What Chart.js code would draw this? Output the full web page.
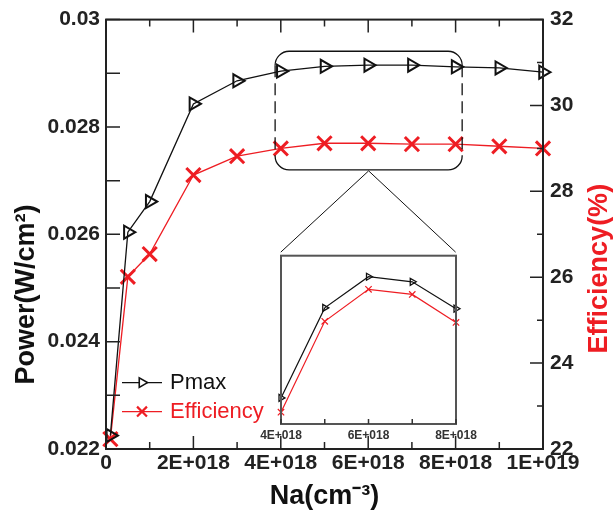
<!DOCTYPE html>
<html>
<head>
<meta charset="utf-8">
<script src="https://cdn.jsdelivr.net/npm/chart.js@4.4.1/dist/chart.umd.min.js"></script>
<style>
  html, body { margin: 0; padding: 0; background: #fff; }
  #wrap { position: relative; width: 613px; height: 514px; }
  #insetBox { position: absolute; }
</style>
</head>
<body>
<div id="wrap">
  <canvas id="chartMain" width="613" height="514"></canvas>
  <div id="insetBox"><canvas id="chartInset"></canvas></div>
</div>
<script>
// valores
const NA = [1e17, 5e17, 1e18, 2e18, 3e18, 4e18, 5e18, 6e18, 7e18, 8e18, 9e18, 1e19];
const PMAX = [0.02225, 0.02604, 0.02661, 0.02843, 0.02886, 0.02904, 0.02913, 0.02915, 0.02915, 0.02912, 0.02910, 0.02902];
const EFICIENCIA = [22.23, 26.01, 26.54, 28.38, 28.82, 29.00, 29.12, 29.12, 29.10, 29.10, 29.05, 29.00];

// zoom del recuadro
const NA_INSET = [4e18, 5e18, 6e18, 7e18, 8e18];
const PMAX_INSET = [0.029031, 0.029138, 0.029175, 0.029169, 0.029137];
const EFF_INSET = [28.921, 29.083, 29.140, 29.131, 29.081];

const X_TICKS = ['0', '2E+018', '4E+018', '6E+018', '8E+018', '1E+019'];
const Y_TICKS = ['0.022', '0.024', '0.026', '0.028', '0.03'];
const Y2_TICKS = ['22', '24', '26', '28', '30', '32'];
const X_TICKS_INSET = ['4E+018', '', '6E+018', '', '8E+018'];

// zonas en unidades de datos (recuadro redondeado y grafico chico)
const ZONA_ZOOM = { xMin: 3.87e18, xMax: 8.15e18, yMin: 0.02720, yMax: 0.02941 };
const ZONA_INSET = { xMin: 4e18, xMax: 8e18, yMin: 0.022461, yMax: 0.025668 };

const ROJO = '#ee1d23';
const NEGRO = '#111111';
const FUENTE = "'Liberation Sans', Arial, sans-serif";

Chart.defaults.font.family = FUENTE;
Chart.defaults.color = '#222';

function marcas(chart, ejeId, desde, hasta, paso, cadaMayor, largoMayor, largoMenor, lados, color) {
    const s = chart.scales[ejeId];
    const a = chart.chartArea;
    const ctx = chart.ctx;
    const n = Math.round((hasta - desde) / paso);
    ctx.save();
    ctx.strokeStyle = color || '#222';
    ctx.lineWidth = 1.5;
    ctx.beginPath();
    for (let i = 0; i <= n; i++) {
        const p = s.getPixelForValue(desde + i * paso);
        const L = (i % cadaMayor === 0) ? largoMayor : largoMenor;
        lados.forEach(lado => {
            if (lado === 'bottom') { ctx.moveTo(p, a.bottom); ctx.lineTo(p, a.bottom - L); }
            if (lado === 'top') { ctx.moveTo(p, a.top); ctx.lineTo(p, a.top + L); }
            if (lado === 'left') { ctx.moveTo(a.left, p); ctx.lineTo(a.left + L, p); }
            if (lado === 'right') { ctx.moveTo(a.right, p); ctx.lineTo(a.right - L, p); }
        });
    }
    ctx.stroke();
    ctx.restore();
}

function texto(ctx, str, x, y, rot, font, color) {
    ctx.save();
    ctx.translate(x, y);
    ctx.rotate(rot);
    ctx.font = font;
    ctx.fillStyle = color;
    ctx.textAlign = 'center';
    ctx.textBaseline = 'middle';
    ctx.fillText(str, 0, 0);
    ctx.restore();
}

// marcadores de la leyenda (mas chicos que los del grafico)
const LEYENDA_MARCA = [
    { radius: 5.5, borderWidth: 1.6 },
    { radius: 7, borderWidth: 2.2 }
];

const decoPrincipal = {
    id: 'decoPrincipal',
    afterDatasetsDraw(chart) {
        const ctx = chart.ctx;
        const a = chart.chartArea;
        const sx = chart.scales.x, sy = chart.scales.y;

        // marco y marcas hacia adentro
        ctx.save();
        ctx.strokeStyle = '#222';
        ctx.lineWidth = 2;
        ctx.strokeRect(a.left, a.top, a.width, a.height);
        ctx.restore();
        marcas(chart, 'x', 0, 1e19, 1e18, 2, 13, 7, ['bottom', 'top']);
        marcas(chart, 'y', 0.022, 0.030, 0.001, 2, 14, 14, ['left']);
        marcas(chart, 'y2', 22, 32, 1, 2, 13, 6, ['right']);

        // titulos de ejes
        texto(ctx, 'Power(W/cm²)', a.left - 79, a.top + a.height * 0.64, -Math.PI / 2, 'bold 27px ' + FUENTE, '#111');
        texto(ctx, 'Efficiency(%)', a.right + 57, a.top + a.height * 0.58, -Math.PI / 2, 'bold 27px ' + FUENTE, ROJO);
        texto(ctx, 'Na(cm⁻³)', (a.left + a.right) / 2, a.bottom + 48, 0, 'bold 27px ' + FUENTE, '#111');

        // leyenda dentro del area
        const items = chart.data.datasets;
        items.forEach((ds, i) => {
            const y = a.top + 363 + i * 29;
            const x0 = a.left + 16;
            ctx.save();
            ctx.strokeStyle = ds.borderColor;
            ctx.lineWidth = 1.2;
            ctx.beginPath();
            ctx.moveTo(x0, y);
            ctx.lineTo(x0 + 40, y);
            ctx.stroke();
            ctx.fillStyle = '#fff';
            ctx.lineWidth = LEYENDA_MARCA[i].borderWidth;
            Chart.helpers.drawPoint(ctx, {
                pointStyle: ds.pointStyle, rotation: ds.pointRotation,
                radius: LEYENDA_MARCA[i].radius, borderWidth: LEYENDA_MARCA[i].borderWidth
            }, x0 + 20, y);
            ctx.fillStyle = ds.borderColor;
            ctx.font = '22px ' + FUENTE;
            ctx.textAlign = 'left';
            ctx.textBaseline = 'middle';
            ctx.fillText(ds.label, x0 + 48, y);
            ctx.restore();
        });

        // recuadro redondeado con lados punteados
        const x1 = sx.getPixelForValue(ZONA_ZOOM.xMin), x2 = sx.getPixelForValue(ZONA_ZOOM.xMax);
        const y1 = sy.getPixelForValue(ZONA_ZOOM.yMax), y2 = sy.getPixelForValue(ZONA_ZOOM.yMin);
        const r = 14;
        ctx.save();
        ctx.strokeStyle = '#111';
        ctx.lineWidth = 1.3;
        ctx.beginPath();
        ctx.moveTo(x1, y1 + r);
        ctx.arcTo(x1, y1, x1 + r, y1, r);
        ctx.lineTo(x2 - r, y1);
        ctx.arcTo(x2, y1, x2, y1 + r, r);
        ctx.moveTo(x1, y2 - r);
        ctx.arcTo(x1, y2, x1 + r, y2, r);
        ctx.lineTo(x2 - r, y2);
        ctx.arcTo(x2, y2, x2, y2 - r, r);
        ctx.stroke();
        ctx.setLineDash([12, 6]);
        ctx.beginPath();
        ctx.moveTo(x1, y1 + r); ctx.lineTo(x1, y2 - r);
        ctx.moveTo(x2, y1 + r); ctx.lineTo(x2, y2 - r);
        ctx.stroke();
        ctx.setLineDash([]);

        // lineas hacia el grafico chico
        const cx = (x1 + x2) / 2;
        const ix1 = sx.getPixelForValue(ZONA_INSET.xMin), ix2 = sx.getPixelForValue(ZONA_INSET.xMax);
        const iy = sy.getPixelForValue(ZONA_INSET.yMax);
        ctx.lineWidth = 1;
        ctx.beginPath();
        ctx.moveTo(ix1, iy); ctx.lineTo(cx, y2 + 1); ctx.lineTo(ix2, iy);
        ctx.stroke();
        ctx.restore();
    }
};

const principal = new Chart(document.getElementById('chartMain'), {
    type: 'line',
    data: {
        labels: NA,
        datasets: [
            {
                label: 'Pmax', data: NA.map((x, i) => ({ x: x, y: PMAX[i] })), yAxisID: 'y',
                borderColor: NEGRO, borderWidth: 1.3, backgroundColor: '#fff',
                pointStyle: 'triangle', pointRotation: 90, pointRadius: 7.5, pointBorderWidth: 2,
                pointBackgroundColor: 'rgba(255,255,255,0)', tension: 0, clip: false
            },
            {
                label: 'Efficiency', data: NA.map((x, i) => ({ x: x, y: EFICIENCIA[i] })), yAxisID: 'y2',
                borderColor: ROJO, borderWidth: 1.3, backgroundColor: ROJO,
                pointStyle: 'crossRot', pointRadius: 10, pointBorderWidth: 3,
                tension: 0, clip: false
            }
        ]
    },
    options: {
        responsive: false,
        animation: false,
        layout: { padding: { top: 15 } },
        plugins: { legend: { display: false }, tooltip: { enabled: false } },
        scales: {
            x: {
                type: 'linear', min: 0, max: 1e19,
                grid: { display: false, drawTicks: false }, border: { display: false },
                ticks: {
                    stepSize: 2e18, maxRotation: 0, autoSkip: false, padding: 2,
                    font: { size: 21, weight: 'bold' }, color: '#222',
                    callback: (v, i) => X_TICKS[i]
                },
                afterFit: s => { s.height = 65; }
            },
            y: {
                position: 'left', min: 0.022, max: 0.03,
                grid: { display: false, drawTicks: false }, border: { display: false },
                ticks: {
                    stepSize: 0.002, padding: 6,
                    font: { size: 21, weight: 'bold' }, color: '#222',
                    callback: (v, i) => Y_TICKS[i]
                },
                afterFit: s => { s.width = 106; }
            },
            y2: {
                position: 'right', min: 22, max: 32,
                grid: { display: false, drawTicks: false }, border: { display: false },
                ticks: {
                    stepSize: 2, padding: 7,
                    font: { size: 21, weight: 'bold' }, color: '#222',
                    callback: (v, i) => Y2_TICKS[i]
                },
                afterFit: s => { s.width = 70; }
            }
        }
    },
    plugins: [decoPrincipal]
});

// posicion del grafico chico a partir de las escalas del principal
const msx = principal.scales.x, msy = principal.scales.y;
const iL = msx.getPixelForValue(ZONA_INSET.xMin), iR = msx.getPixelForValue(ZONA_INSET.xMax);
const iT = msy.getPixelForValue(ZONA_INSET.yMax), iB = msy.getPixelForValue(ZONA_INSET.yMin);
const PAD_LADO = 25, PAD_ARRIBA = 2, ALTO_EJE = 22;
const caja = document.getElementById('insetBox');
caja.style.left = (iL - PAD_LADO) + 'px';
caja.style.top = (iT - PAD_ARRIBA) + 'px';
const cvInset = document.getElementById('chartInset');
cvInset.width = Math.round(iR - iL + 2 * PAD_LADO);
cvInset.height = Math.round(iB - iT + PAD_ARRIBA + ALTO_EJE);

const decoInset = {
    id: 'decoInset',
    beforeDatasetsDraw(chart) {
        const a = chart.chartArea;
        chart.ctx.save();
        chart.ctx.fillStyle = '#fff';
        chart.ctx.fillRect(a.left, a.top, a.width, a.height);
        chart.ctx.restore();
    },
    afterDatasetsDraw(chart) {
        const a = chart.chartArea;
        const ctx = chart.ctx;
        ctx.save();
        ctx.strokeStyle = '#555';
        ctx.lineWidth = 2;
        ctx.strokeRect(a.left, a.top, a.width, a.height);
        ctx.restore();
        marcas(chart, 'x', 4e18, 8e18, 1e18, 1, 5, 5, ['bottom'], '#333');
    }
};

new Chart(cvInset, {
    type: 'line',
    data: {
        datasets: [
            {
                label: 'Pmax', data: NA_INSET.map((x, i) => ({ x: x, y: PMAX_INSET[i] })), yAxisID: 'yp',
                borderColor: NEGRO, borderWidth: 1.2,
                pointStyle: 'triangle', pointRotation: 90, pointRadius: 4, pointBorderWidth: 1.3,
                pointBackgroundColor: 'rgba(255,255,255,0)', tension: 0, clip: false
            },
            {
                label: 'Efficiency', data: NA_INSET.map((x, i) => ({ x: x, y: EFF_INSET[i] })), yAxisID: 'ye',
                borderColor: ROJO, borderWidth: 1.2,
                pointStyle: 'crossRot', pointRadius: 4.5, pointBorderWidth: 1.2,
                tension: 0, clip: false
            }
        ]
    },
    options: {
        responsive: false,
        animation: false,
        layout: { padding: { left: PAD_LADO, right: PAD_LADO, top: PAD_ARRIBA, bottom: 0 } },
        plugins: { legend: { display: false }, tooltip: { enabled: false } },
        scales: {
            x: {
                type: 'linear', min: 4e18, max: 8e18,
                grid: { display: false, drawTicks: false }, border: { display: false },
                ticks: {
                    stepSize: 1e18, maxRotation: 0, autoSkip: false, padding: 4,
                    font: { size: 12, weight: 'bold' }, color: '#333',
                    callback: (v, i) => X_TICKS_INSET[i]
                },
                afterFit: s => { s.height = ALTO_EJE; }
            },
            yp: { display: false, min: 0.0290, max: 0.0292 },
            ye: { display: false, min: 28.9, max: 29.2 }
        }
    },
    plugins: [decoInset]
});
</script>
</body>
</html>
